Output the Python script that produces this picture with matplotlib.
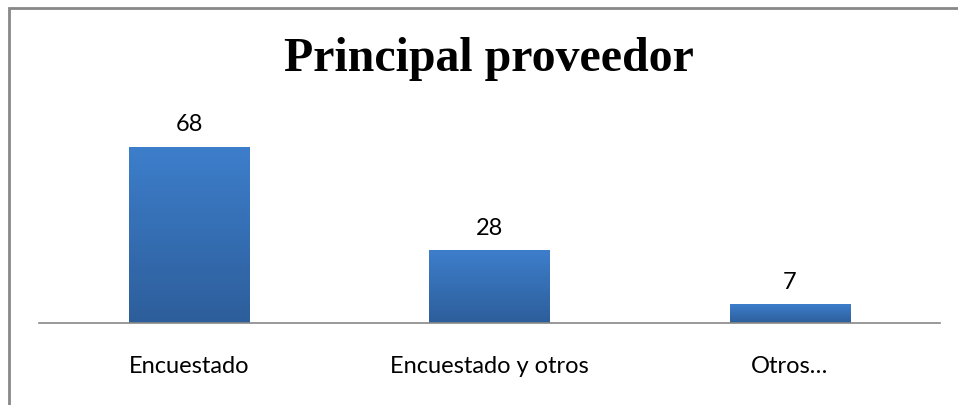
import matplotlib.pyplot as plt
import numpy as np
from matplotlib.patches import Rectangle

categories = ['Encuestado', 'Encuestado y otros', 'Otros…']
values = [68, 28, 7]

fig = plt.figure(figsize=(9.58, 4.05), dpi=100)
ax = fig.add_axes([39 / 958, 82 / 405, 901 / 958, 223 / 405])

# gradient from light blue (top) to darker blue (bottom)
grad = np.linspace(0, 1, 256).reshape(-1, 1)
cmap = plt.matplotlib.colors.LinearSegmentedColormap.from_list('bar', ['#2D5E9B', '#3D7ECB'])

bar_w = 0.4
for i, v in enumerate(values):
    x0 = i - bar_w / 2
    ax.imshow(grad, cmap=cmap, origin='lower', aspect='auto',
              extent=(x0, x0 + bar_w, 0, v), zorder=2)
    ax.text(i, v + 4.5, str(v), ha='center', va='bottom', fontsize=17,
            family='Lato', color='#000000')

ax.set_xlim(-0.5, 2.5)
ax.set_ylim(0, 223 / 176 * 68)
ax.set_xticks(range(len(categories)))
ax.set_xticklabels(categories, fontsize=17, family='Lato')
ax.tick_params(axis='x', length=0, pad=24)
ax.set_yticks([])
for s in ['top', 'right', 'left']:
    ax.spines[s].set_visible(False)
ax.spines['bottom'].set_color('#888888')
ax.spines['bottom'].set_linewidth(1.2)
ax.spines['bottom'].set_zorder(3)

fig.text(489 / 958, 1 - 59 / 405, 'Principal proveedor', ha='center', va='center',
         fontsize=34.5, fontweight='bold', family='Liberation Serif')

# chart frame (only top and left edges visible)
fig.patches.append(Rectangle((9 / 958, -0.1), 1.2, 1 - 8 / 405 + 0.1,
                             transform=fig.transFigure, fill=False,
                             edgecolor='#888888', linewidth=2))

fig.savefig('out.png', dpi=100)
